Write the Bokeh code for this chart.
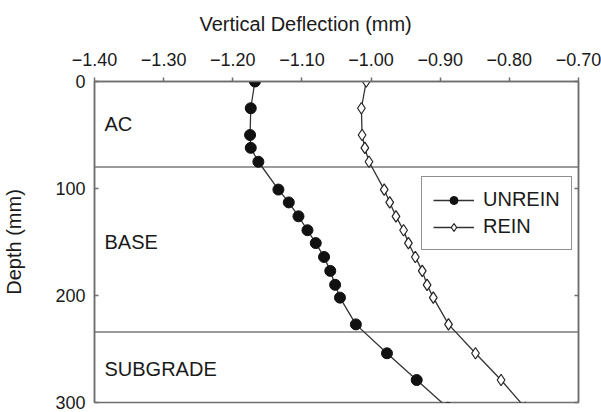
import numpy as np
from bokeh.plotting import figure
from bokeh.models import (Range1d, FixedTicker, LinearAxis, Span, Legend,
                          LegendItem, ColumnDataSource)
from bokeh.core.properties import value
from bokeh.embed import file_html
from bokeh.resources import INLINE

# ---------------- data ----------------
depth = [0, 25, 50, 62, 75, 101, 113, 126, 139, 151, 164, 177, 190, 202, 227, 254, 279, 305]
unrein = [-1.168, -1.174, -1.175, -1.174, -1.163, -1.134, -1.119, -1.105, -1.092,
          -1.080, -1.068, -1.059, -1.052, -1.045, -1.022, -0.977, -0.934, -0.889]
rein = [-1.007, -1.014, -1.013, -1.009, -1.003, -0.981, -0.973, -0.964, -0.953,
        -0.946, -0.936, -0.926, -0.919, -0.910, -0.888, -0.849, -0.812, -0.777]

x_ticks = [-1.4, -1.3, -1.2, -1.1, -1.0, -0.9, -0.8, -0.7]
x_tick_labels = ["\u22121.40", "\u22121.30", "\u22121.20", "\u22121.10",
                 "\u22121.00", "\u22120.90", "\u22120.80", "\u22120.70"]
y_ticks = [0, 100, 200, 300]
y_tick_labels = ["0", "100", "200", "300"]

layer_bounds = [80, 234]
layer_names = ["AC", "BASE", "SUBGRADE"]
layer_label_depth = [40, 150, 269]

FONT = "Liberation Sans"
FRAME = "#6e6e6e"
TXT = "#1a1a1a"

# ---------------- figure ----------------
p = figure(width=601, height=412,
           x_range=Range1d(x_ticks[0], x_ticks[-1]),
           y_range=Range1d(y_ticks[-1], y_ticks[0]),
           x_axis_location="above",
           output_backend="svg", toolbar_location=None,
           min_border_left=92, min_border_right=23,
           min_border_top=81, min_border_bottom=10)

p.background_fill_color = "white"
p.border_fill_color = "white"
p.outline_line_color = FRAME
p.outline_line_width = 1.5
p.xgrid.visible = False
p.ygrid.visible = False

# title (top label)
p.title.text = "Vertical Deflection (mm)"
p.title.align = "left"
p.title.vertical_align = "top"
p.title.offset = 105
p.title.text_font = FONT
p.title.text_font_size = "20px"
p.title.text_font_style = "normal"
p.title.text_color = TXT
p.title.standoff = 25

# x axis (top)
xa = p.xaxis[0]
xa.ticker = FixedTicker(ticks=x_ticks)
xa.major_label_overrides = {t: l for t, l in zip(x_ticks, x_tick_labels)}
xa.major_label_text_font = FONT
xa.major_label_text_font_size = "18px"
xa.major_label_text_color = TXT
xa.major_label_standoff = 12
xa.major_tick_in = 0
xa.major_tick_out = 4
xa.minor_tick_line_color = None
xa.axis_line_color = FRAME
xa.axis_line_width = 1.5
xa.major_tick_line_color = FRAME
xa.major_tick_line_width = 1.5

# y axis (left)
ya = p.yaxis[0]
ya.ticker = FixedTicker(ticks=y_ticks)
ya.major_label_overrides = {t: l for t, l in zip(y_ticks, y_tick_labels)}
ya.major_label_text_font = FONT
ya.major_label_text_font_size = "18px"
ya.major_label_text_color = TXT
ya.major_label_standoff = 9
ya.major_tick_in = 4
ya.major_tick_out = 0
ya.minor_tick_line_color = None
ya.axis_line_color = FRAME
ya.axis_line_width = 1.5
ya.major_tick_line_color = FRAME
ya.major_tick_line_width = 1.5
ya.axis_label = "Depth (mm)"
ya.axis_label_text_font = FONT
ya.axis_label_text_font_size = "20px"
ya.axis_label_text_font_style = "normal"
ya.axis_label_text_color = TXT
ya.axis_label_standoff = 27

# right axis: inward ticks only, no labels
ra = LinearAxis(ticker=FixedTicker(ticks=y_ticks),
                major_label_overrides={t: "" for t in y_ticks},
                major_tick_in=4, major_tick_out=0,
                major_label_standoff=0,
                minor_tick_line_color=None,
                axis_line_color=FRAME, axis_line_width=1.5,
                major_tick_line_color=FRAME, major_tick_line_width=1.5)
p.add_layout(ra, "right")

# layer boundaries
for b in layer_bounds:
    p.add_layout(Span(location=b, dimension="width", line_color="#7a7a7a",
                      line_width=1.5, level="underlay"))

# layer names
src_layers = ColumnDataSource(dict(x=[x_ticks[0]] * len(layer_names),
                                   y=layer_label_depth, t=layer_names))
p.text(x="x", y="y", text="t", source=src_layers, x_offset=10,
       text_baseline="middle", text_align="left",
       text_font=value(FONT), text_font_size="20px", text_color=TXT)

# series
l1 = p.line(unrein, depth, line_color="#333333", line_width=1.3)
s1 = p.scatter(unrein, depth, marker="circle", size=11,
               fill_color="#111111", line_color="#111111")
l2 = p.line(rein, depth, line_color="#333333", line_width=1.3)
s2 = p.scatter(rein, depth, marker="diamond", size=11.5,
               fill_color="white", line_color="#222222", line_width=1.2)

legend = Legend(items=[LegendItem(label="UNREIN", renderers=[l1, s1]),
                       LegendItem(label="REIN", renderers=[l2, s2])],
                location=(327, 152),
                border_line_color="#222222", border_line_width=1,
                background_fill_color="white", background_fill_alpha=1,
                padding=11, spacing=4, margin=0,
                glyph_width=41, glyph_height=20, label_standoff=9,
                label_text_font=FONT, label_text_font_size="20px",
                label_text_color=TXT)
p.add_layout(legend, "center")

open("out.html", "w").write(file_html(p, INLINE))
